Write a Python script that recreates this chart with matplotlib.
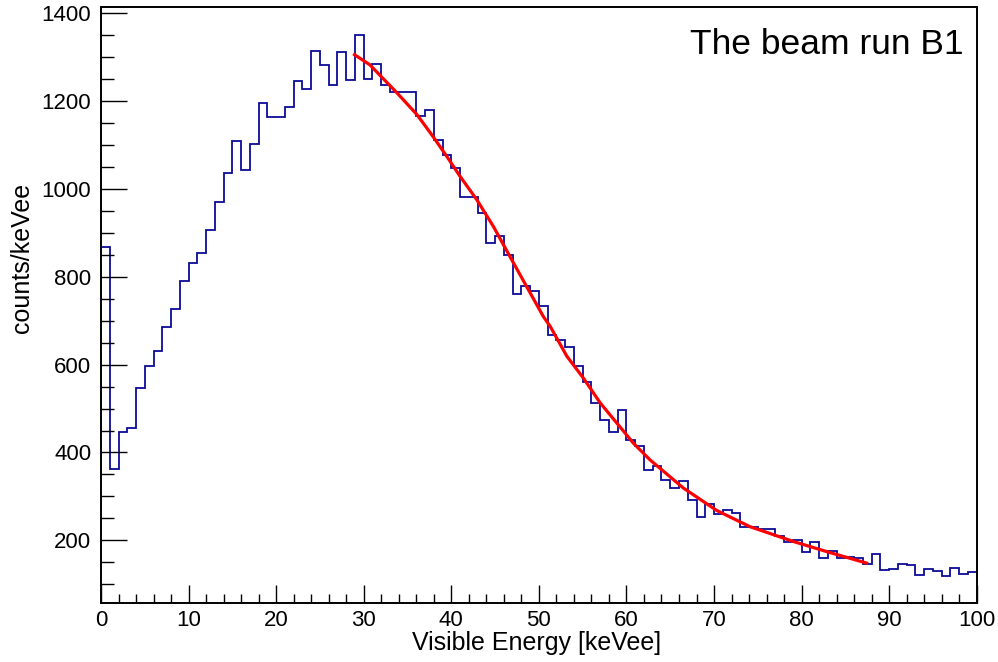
import matplotlib
matplotlib.use('Agg')
import matplotlib.pyplot as plt
from matplotlib.ticker import MultipleLocator
import numpy as np

plt.rcParams['font.family'] = ['Liberation Sans', 'DejaVu Sans']

# histogram: 1 keVee bins from 0 to 100
bin_edges = np.arange(0, 101, 1)
counts = [
    869, 362, 447, 455, 547, 598, 632, 686, 726, 791,
    832, 854, 907, 971, 1036, 1109, 1044, 1103, 1197, 1163,
    1165, 1187, 1245, 1228, 1315, 1282, 1238, 1312, 1249, 1351,
    1251, 1284, 1238, 1222, 1220, 1220, 1167, 1179, 1112, 1077,
    1048, 983, 983, 945, 877, 892, 850, 761, 780, 767,
    734, 668, 657, 641, 596, 560, 512, 474, 446, 497,
    429, 414, 361, 370, 338, 319, 336, 291, 254, 283,
    260, 268, 263, 230, 230, 225, 225, 209, 197, 201,
    173, 197, 159, 176, 159, 163, 159, 146, 168, 133,
    135, 147, 143, 121, 134, 131, 118, 137, 123, 128,
]

# fit curve
fit_x = [28.8, 30.7, 33.8, 36.1, 37.9, 39.5, 41.0, 42.9, 44.8, 46.9,
         48.6, 50.5, 51.3, 53.2, 55.1, 57.0, 58.9, 60.8, 62.7, 66.5,
         70.3, 74.1, 79.1, 82.9, 87.6]
fit_y = [1308, 1283, 1219, 1169, 1120, 1074, 1029, 976, 915, 839,
         778, 710, 687, 619, 569, 513, 467, 421, 383, 319,
         268, 231, 197, 174, 147]

fig = plt.figure(figsize=(9.98, 6.62), dpi=100)
ax = fig.add_axes([0.1012, 0.0887, 0.8775, 0.9003])

ax.stairs(counts, bin_edges, baseline=None, color='#0c0c99', linewidth=1.3)
ax.plot(fit_x, fit_y, color='red', linewidth=2.3, solid_capstyle='butt')

ax.set_xlim(0, 100)
ax.set_ylim(56.5, 1414)

ax.xaxis.set_major_locator(MultipleLocator(10))
ax.xaxis.set_minor_locator(MultipleLocator(2))
ax.yaxis.set_major_locator(MultipleLocator(200))
ax.yaxis.set_minor_locator(MultipleLocator(50))

ax.tick_params(axis='both', which='both', direction='in', top=False, right=False,
               labelsize=16, width=1.0, color='black')
ax.tick_params(axis='x', which='major', length=13, pad=5)
ax.tick_params(axis='x', which='minor', length=6.5)
ax.tick_params(axis='y', which='major', length=18.5, pad=7)
ax.tick_params(axis='y', which='minor', length=9.4)

for s in ax.spines.values():
    s.set_linewidth(1.4)

ax.set_xlabel('Visible Energy [keVee]', fontsize=18, va='baseline')
ax.xaxis.set_label_coords(0.4973, -0.0784)
ax.set_ylabel('counts/keVee', fontsize=18, va='center', ha='center')
ax.yaxis.set_label_coords(-0.0906, 0.579)

ax.text(0.985, 0.965, 'The beam run B1', transform=ax.transAxes,
        ha='right', va='top', fontsize=25.5)

fig.savefig('out.png', dpi=100)
